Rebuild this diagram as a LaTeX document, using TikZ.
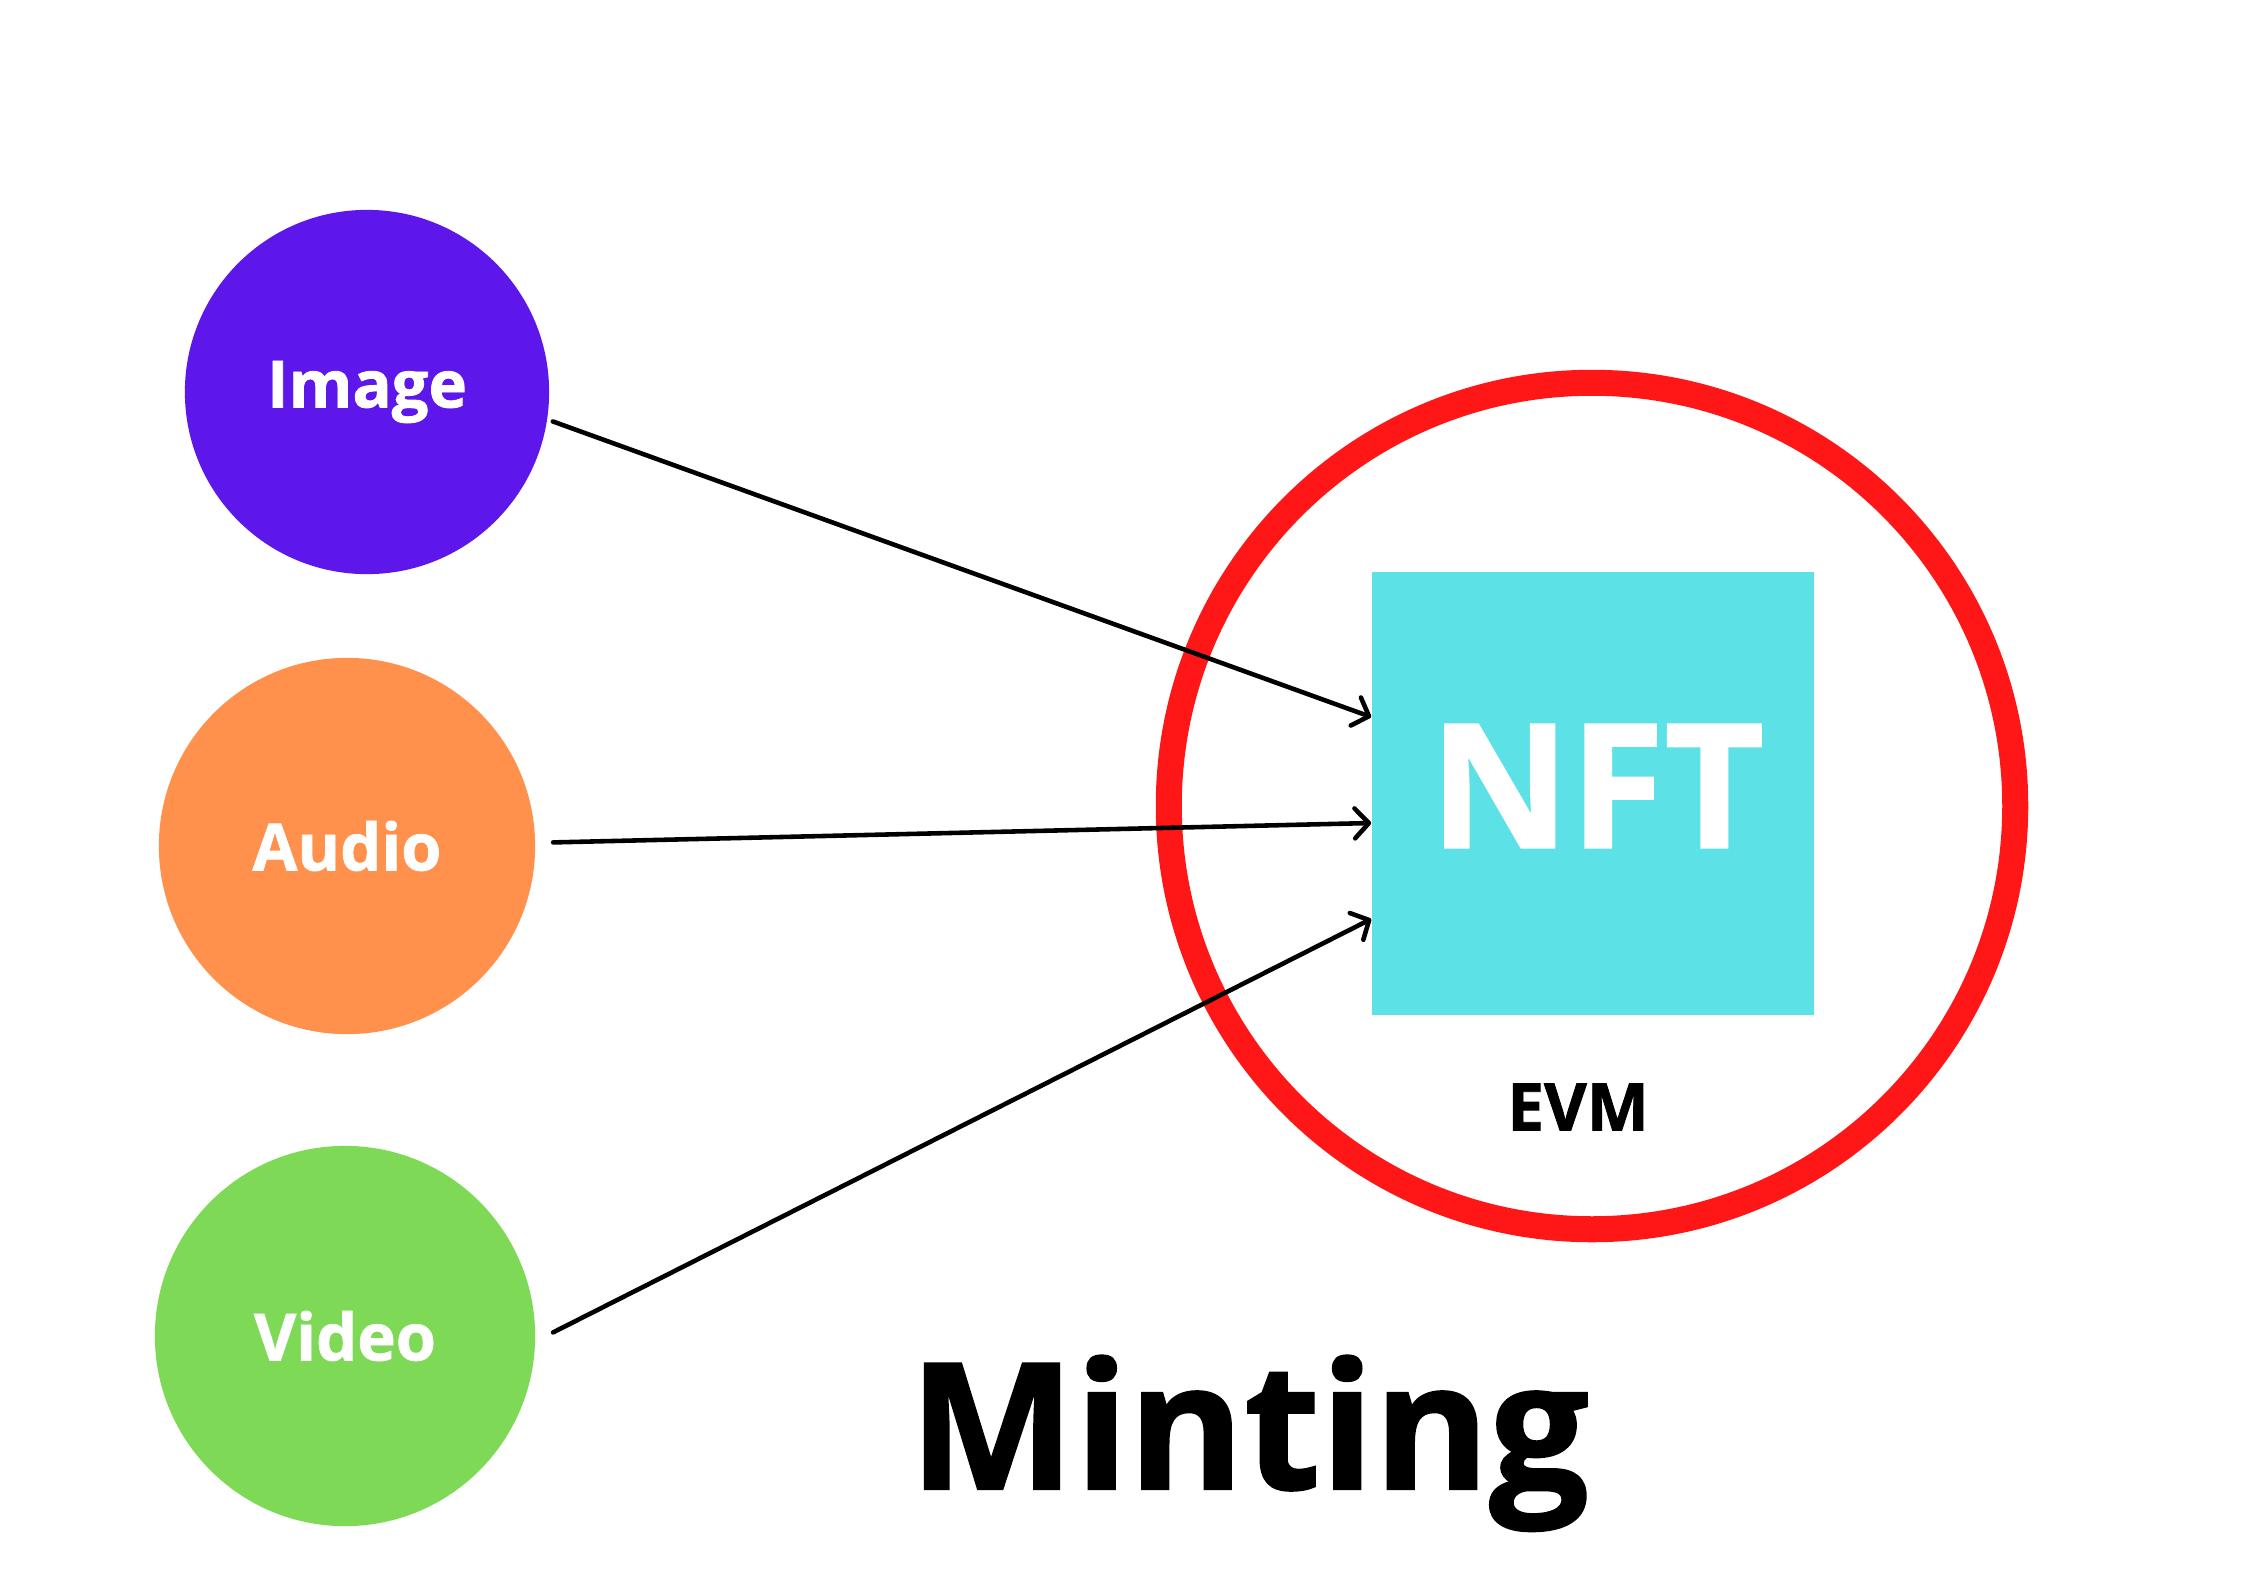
\documentclass[tikz,border=0pt]{standalone}
\usepackage{fontspec}
\setmainfont{Open Sans}[BoldFeatures={FakeBold=1.2}]
\usetikzlibrary{arrows.meta,calc}
\begin{document}
\begin{tikzpicture}[x=0.01cm,y=-0.01cm,
  medianode/.style={circle,inner sep=0,text=white,font=\fontsize{18.5}{20}\selectfont\bfseries},
  conn/.style={line width=1.3pt,line cap=round,-{Straight Barb[length=4pt,width=8.5pt,line cap=round,round]}}]
\definecolor{imgpurple}{HTML}{5E17EB}
\definecolor{audorange}{HTML}{FF914D}
\definecolor{vidgreen}{HTML}{7ED957}
\definecolor{nftcyan}{HTML}{5CE1E6}
\definecolor{ringred}{HTML}{FF1616}
\fill[white] (0,0) rectangle (2245,1587);
% the three media
\foreach \nm/\crlr/\x/\y/\r/\gap/\txt in {img/imgpurple/367/392/182/6/Image,aud/audorange/347/846/188/18/Audio,vid/vidgreen/345/1336/190/18/Video}
  {  \node [medianode,fill=\crlr,minimum size={\r*0.02cm},outer sep={\gap*0.01cm}] (\nm) at (\x,\y) {\txt};}
% EVM ring and the NFT box
\node [circle,draw=ringred,line width=0.26cm,minimum size=8.46cm,inner sep=0] (evm) at (1592,806) {};
\node [fill=nftcyan,minimum size=4.42cm,inner sep=0] (nft) at (1593,793.5) {};
\node [text=white,font=\fontsize{49}{52}\selectfont\bfseries] (nftlabel) at (1597,786) {NFT};
\node [font=\fontsize{18.7}{20}\selectfont\bfseries] (evmlabel) at (1578,1107) {EVM};
\node [anchor=base,font=\fontsize{50}{54}\selectfont\bfseries] (title) at (1249,1489) {Minting};
\coordinate (in1) at ($(nft.west)+(0,-76.5)$);
\coordinate (in2) at ($(nft.west)+(0,29.5)$);
\coordinate (in3) at ($(nft.west)+(0,125.5)$);
\draw [conn] (img.-9) -- (in1);
\draw [conn] (aud.1) -- (in2);
\draw [conn] (vid.1) -- (in3);
\end{tikzpicture}
\end{document}
